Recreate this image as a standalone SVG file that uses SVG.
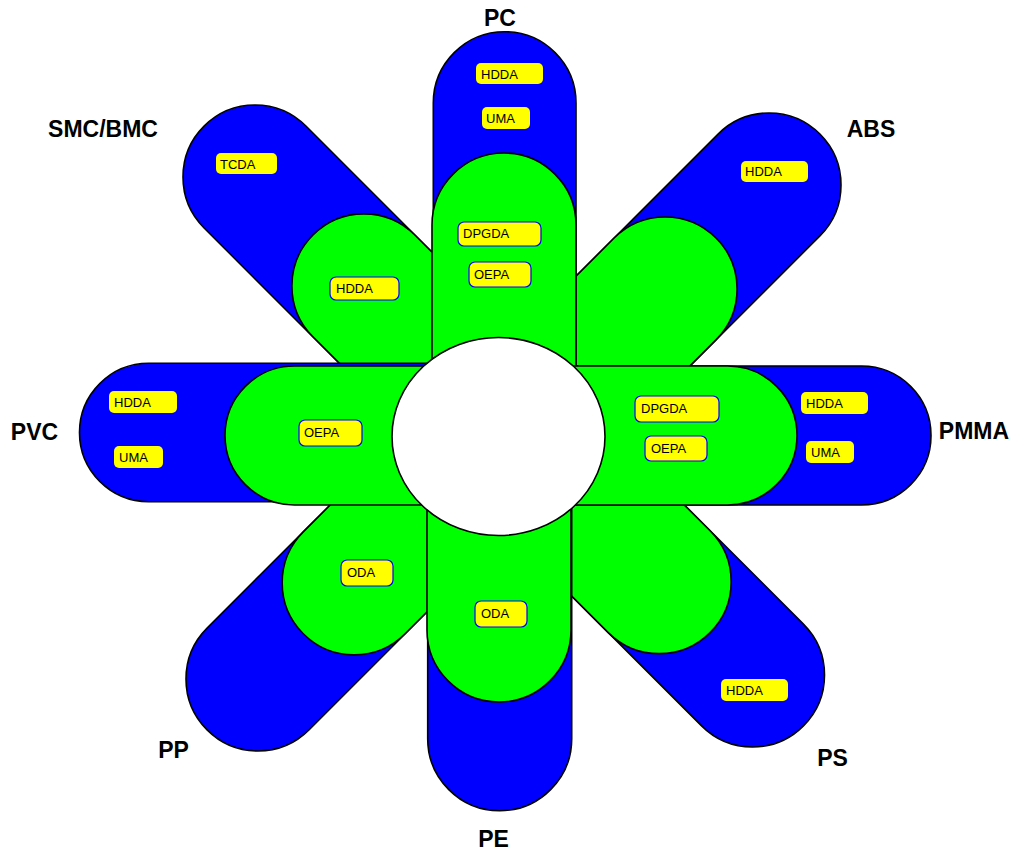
<svg xmlns="http://www.w3.org/2000/svg" width="1013" height="850" viewBox="0 0 1013 850">
  <style>
    .outer { fill: #0000FF; stroke: #000; stroke-width: 1.6; }
    .inner { fill: #00FF00; stroke: #000; stroke-width: 1.6; }
    .hub { fill: #FFFFFF; stroke: #000; stroke-width: 1.6; }
    .tag { fill: #FFFF00; }
    .tag-b { fill: #FFFF00; stroke: #0000FF; stroke-width: 1.2; }
    .tt { font-family: "Liberation Sans", Arial, sans-serif; font-size: 13px; fill: #000; }
    .lbl { font-family: "Liberation Sans", Arial, sans-serif; font-size: 23px; font-weight: bold; fill: #000; text-anchor: middle; }
  </style>
  <rect width="1013" height="850" fill="#FFFFFF"/>

  <!-- diagonal petals: outer (blue) stadiums -->
  <g id="petal-SMC-BMC-outer"><rect class="outer" transform="translate(255,177) rotate(45)" x="-72" y="-72" width="490" height="144" rx="72"/></g>
  <g id="petal-ABS-outer"><rect class="outer" transform="translate(769,185) rotate(135)" x="-72" y="-72" width="510" height="144" rx="72"/></g>
  <g id="petal-PS-outer"><rect class="outer" transform="translate(752.5,675) rotate(-135)" x="-72" y="-72" width="494" height="144" rx="72"/></g>
  <g id="petal-PP-outer"><rect class="outer" transform="translate(258,679) rotate(-45)" x="-72" y="-72" width="486" height="144" rx="72"/></g>

  <!-- diagonal petals: inner (green) stadiums -->
  <g id="petal-SMC-BMC-inner"><rect class="inner" transform="translate(255,177) rotate(45)" x="82" y="-72" width="336" height="144" rx="72"/></g>
  <g id="petal-ABS-inner"><rect class="inner" transform="translate(769,185) rotate(135)" x="75" y="-72" width="363" height="144" rx="72"/></g>
  <g id="petal-PS-inner"><rect class="inner" transform="translate(752.5,675) rotate(-135)" x="60" y="-72" width="362" height="144" rx="72"/></g>
  <g id="petal-PP-inner"><rect class="inner" transform="translate(258,679) rotate(-45)" x="64" y="-72" width="350" height="144" rx="72"/></g>

  <!-- axial petals: outer (blue) stadiums -->
  <g id="petal-PC-outer"><rect class="outer" x="433.3" y="31.7" width="142.7" height="468" rx="71.35"/></g>
  <g id="petal-PE-outer"><rect class="outer" x="427.7" y="380" width="144" height="430.7" rx="72"/></g>
  <g id="petal-PVC-outer"><rect class="outer" x="79.5" y="363.3" width="480" height="138.4" rx="69.2"/></g>
  <g id="petal-PMMA-outer"><rect class="outer" x="440" y="366" width="491" height="139" rx="69.5"/></g>

  <!-- axial petals: inner (green) stadiums -->
  <g id="petal-PC-inner"><rect class="inner" x="432" y="153" width="144" height="347" rx="72"/></g>
  <g id="petal-PE-inner"><rect class="inner" x="427" y="380" width="144" height="322" rx="72"/></g>
  <g id="petal-PVC-inner"><rect class="inner" x="225" y="366" width="335" height="139" rx="69.5"/></g>
  <g id="petal-PMMA-inner"><rect class="inner" x="440" y="366" width="357" height="139" rx="69.5"/></g>

  <!-- centre disc -->
  <g id="hub"><ellipse class="hub" cx="498.5" cy="436.5" rx="106.5" ry="99"/></g>

  <!-- additive tags on outer petals -->
  <g id="tags-outer">
    <rect class="tag" x="476" y="63" width="67" height="21" rx="5"/><text class="tt" x="481" y="79">HDDA</text>
    <rect class="tag" x="482" y="107" width="48" height="22" rx="5"/><text class="tt" x="486" y="123">UMA</text>
    <rect class="tag" x="216" y="153" width="61" height="21" rx="5"/><text class="tt" x="220" y="169">TCDA</text>
    <rect class="tag" x="741" y="161" width="67" height="21" rx="5"/><text class="tt" x="745" y="176">HDDA</text>
    <rect class="tag" x="801" y="392" width="67" height="22" rx="5"/><text class="tt" x="806" y="408">HDDA</text>
    <rect class="tag" x="806" y="441" width="48" height="22" rx="5"/><text class="tt" x="811" y="457">UMA</text>
    <rect class="tag" x="109" y="391" width="68" height="22" rx="5"/><text class="tt" x="114" y="407">HDDA</text>
    <rect class="tag" x="114" y="446" width="49" height="22" rx="5"/><text class="tt" x="119" y="462">UMA</text>
    <rect class="tag" x="721" y="679" width="67" height="22" rx="5"/><text class="tt" x="726" y="695">HDDA</text>
  </g>

  <!-- additive tags on inner petals -->
  <g id="tags-inner">
    <rect class="tag-b" x="458" y="222" width="83" height="24" rx="6"/><text class="tt" x="463" y="238">DPGDA</text>
    <rect class="tag-b" x="469" y="262" width="62" height="25" rx="6"/><text class="tt" x="474" y="279">OEPA</text>
    <rect class="tag-b" x="330" y="277" width="69" height="23" rx="6"/><text class="tt" x="336" y="293">HDDA</text>
    <rect class="tag-b" x="635" y="396" width="84" height="26" rx="6"/><text class="tt" x="641" y="413">DPGDA</text>
    <rect class="tag-b" x="645" y="436" width="62" height="25" rx="6"/><text class="tt" x="651" y="453">OEPA</text>
    <rect class="tag-b" x="299" y="420" width="63" height="26" rx="6"/><text class="tt" x="304" y="437">OEPA</text>
    <rect class="tag-b" x="341" y="560" width="52" height="26" rx="6"/><text class="tt" x="347" y="577">ODA</text>
    <rect class="tag-b" x="475" y="601" width="52" height="26" rx="6"/><text class="tt" x="481" y="618">ODA</text>
  </g>

  <!-- polymer labels -->
  <g id="labels">
    <text class="lbl" x="500" y="26">PC</text>
    <text class="lbl" x="871" y="137">ABS</text>
    <text class="lbl" x="103" y="137">SMC/BMC</text>
    <text class="lbl" x="34.5" y="440">PVC</text>
    <text class="lbl" x="974" y="439">PMMA</text>
    <text class="lbl" x="173.5" y="758">PP</text>
    <text class="lbl" x="832.5" y="766">PS</text>
    <text class="lbl" x="493.5" y="847">PE</text>
  </g>
</svg>
